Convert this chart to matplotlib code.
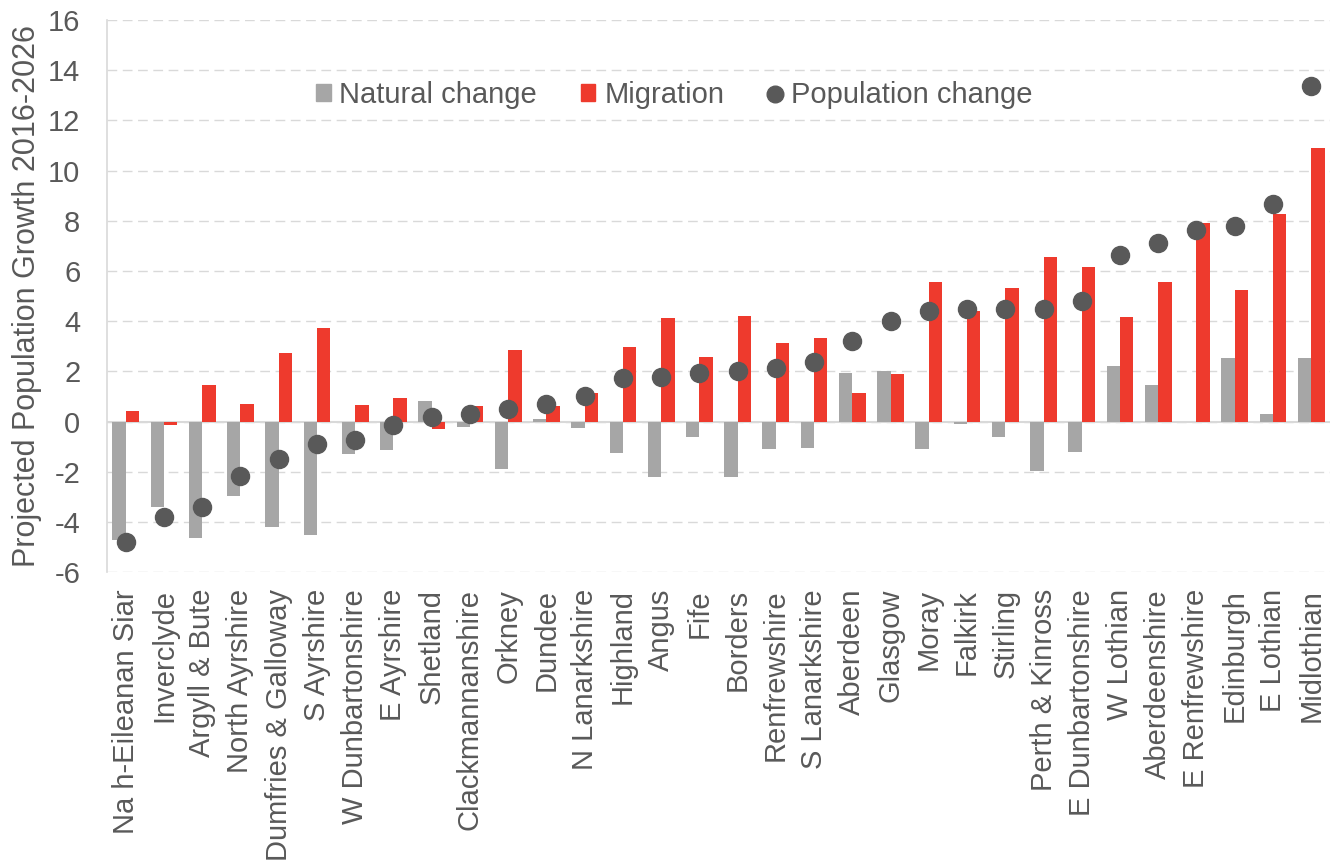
import numpy as np
import matplotlib
matplotlib.use("Agg")
import matplotlib.pyplot as plt
from matplotlib.lines import Line2D
from matplotlib.patches import Patch

plt.rcParams['font.family'] = ['Liberation Sans', 'DejaVu Sans']
plt.rcParams['axes.unicode_minus'] = False

# Council areas, ordered by projected population change
areas = ['Na h-Eileanan Siar', 'Inverclyde', 'Argyll & Bute', 'North Ayrshire',
         'Dumfries & Galloway', 'S Ayrshire', 'W Dunbartonshire', 'E Ayrshire',
         'Shetland', 'Clackmannanshire', 'Orkney', 'Dundee', 'N Lanarkshire',
         'Highland', 'Angus', 'Fife', 'Borders', 'Renfrewshire', 'S Lanarkshire',
         'Aberdeen', 'Glasgow', 'Moray', 'Falkirk', 'Stirling', 'Perth & Kinross',
         'E Dunbartonshire', 'W Lothian', 'Aberdeenshire', 'E Renfrewshire',
         'Edinburgh', 'E Lothian', 'Midlothian']

natural = [-4.7, -3.4, -4.65, -2.95, -4.2, -4.5, -1.3, -1.15,
           0.82, -0.2, -1.88, 0.1, -0.25,
           -1.25, -2.2, -0.6, -2.2, -1.08, -1.05,
           1.95, 2.0, -1.08, -0.08, -0.6, -1.95,
           -1.2, 2.22, 1.45, 0.0,
           2.52, 0.32, 2.52]

migration = [0.43, -0.15, 1.45, 0.72, 2.75, 3.72, 0.67, 0.95,
             -0.3, 0.62, 2.85, 0.62, 1.12,
             2.97, 4.12, 2.58, 4.2, 3.12, 3.35,
             1.12, 1.9, 5.57, 4.4, 5.33, 6.57,
             6.17, 4.17, 5.57, 7.9,
             5.23, 8.28, 10.9]

pop_change = [-4.78, -3.8, -3.4, -2.15, -1.5, -0.9, -0.72, -0.12,
              0.2, 0.3, 0.52, 0.72, 1.02,
              1.73, 1.77, 1.95, 2.0, 2.12, 2.37,
              3.22, 4.0, 4.4, 4.47, 4.5, 4.5,
              4.8, 6.62, 7.12, 7.65,
              7.8, 8.65, 13.35]

grey_bar = '#a6a6a6'
red_bar = '#ee3a2d'
dot_col = '#595959'
text_col = '#595959'
fs = 21

fig = plt.figure(figsize=(13.33, 8.67), dpi=100)
ax = fig.add_axes([0.080, 0.340, 0.918, 0.637])

x = np.arange(len(areas))
w = 0.35
ax.bar(x - w / 2, natural, w, color=grey_bar, zorder=2)
ax.bar(x + w / 2, migration, w, color=red_bar, zorder=2)
ax.plot(x, pop_change, 'o', color=dot_col, markersize=13, zorder=3)

ax.set_xlim(-0.5, len(areas) - 0.5)
ax.set_ylim(-6, 16)
ax.set_yticks(np.arange(-6, 17, 2))
ax.yaxis.grid(True, linestyle=(0, (7, 4)), color='#d9d9d9', linewidth=1.0, zorder=0)
ax.axhline(0, color='#d9d9d9', linewidth=1.5, zorder=1)

for side in ['top', 'right', 'bottom']:
    ax.spines[side].set_visible(False)
ax.spines['left'].set_color('#d9d9d9')
ax.spines['left'].set_linewidth(1.2)

ax.set_xticks(x)
ax.set_xticklabels(areas, rotation=90, fontsize=fs, color=text_col)
ax.tick_params(axis='x', length=0, pad=12)
ax.tick_params(axis='y', length=0, labelsize=fs, labelcolor=text_col, pad=19)
ax.set_ylabel('Projected Population Growth 2016-2026', fontsize=fs + 1,
              color=text_col, labelpad=4)

handles = [Patch(color=grey_bar, label='Natural change'),
           Patch(color=red_bar, label='Migration'),
           Line2D([], [], marker='o', linestyle='', color=dot_col, markersize=12,
                  label='Population change')]
leg = ax.legend(handles=handles, ncol=3, frameon=False, fontsize=fs,
                loc='center', bbox_to_anchor=(0.464, 0.864),
                handlelength=0.5, handleheight=0.5, handletextpad=0.3,
                columnspacing=1.5)
for t in leg.get_texts():
    t.set_color(text_col)

fig.savefig('out.png', dpi=100)
